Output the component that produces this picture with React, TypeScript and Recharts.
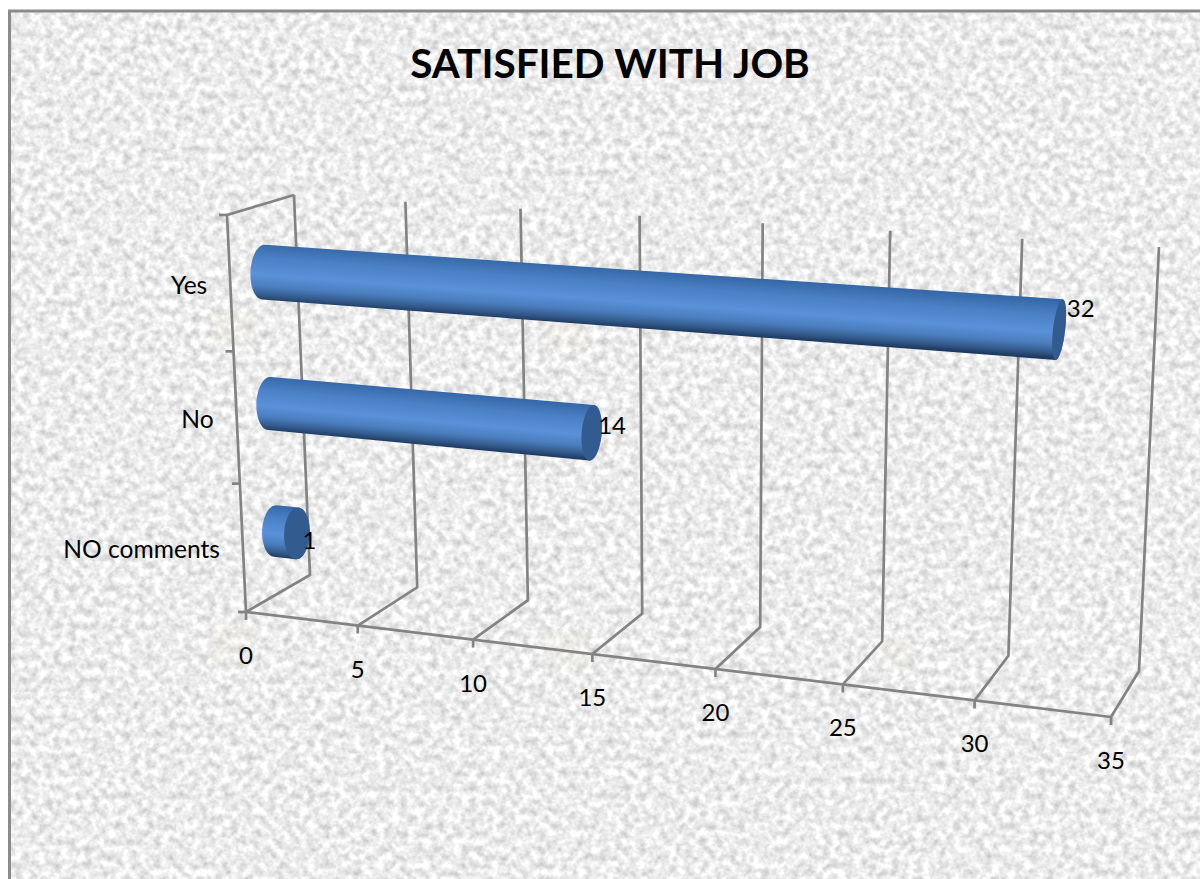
import { BarChart, Bar, XAxis, YAxis, CartesianGrid, LabelList } from 'recharts'

const categories = ['Yes', 'No', 'NO comments']
const counts = [32, 14, 1]
const valueTicks = [0, 5, 10, 15, 20, 25, 30, 35]

const tableRows = categories.map((name, i) => ({ name, count: counts[i] }))

const W = 1200
const H = 879
const PLOT = { left: 100, top: 100, width: 1000, height: 600 }
const FONT = 'Lato, "Open Sans", sans-serif'
const LINE = '#838383'
const LINE_W = 2.7

type Pt = [number, number]
// corners of a wall: bottom-left, bottom-right, top-right, top-left
const FRONT: Pt[] = [[246, 612], [1111, 717], [1135, 274], [227, 215]]
const BACK: Pt[] = [[310, 575], [1139, 671], [1159, 247], [294, 195]]
const BAR_DEPTH = 0.5

// faint warm patches in the paper texture
const PATCHES = [
  [214, 312, 42, 34],
  [542, 318, 48, 30],
  [214, 626, 42, 40],
  [542, 632, 48, 34],
  [878, 638, 34, 28],
]

// unit square to quad, so the value axis foreshortens like the 3D box
function homography(q: Pt[]) {
  const [[x0, y0], [x1, y1], [x2, y2], [x3, y3]] = q
  const dx1 = x1 - x2, dx2 = x3 - x2, sx = x0 - x1 + x2 - x3
  const dy1 = y1 - y2, dy2 = y3 - y2, sy = y0 - y1 + y2 - y3
  const den = dx1 * dy2 - dx2 * dy1
  const g = (sx * dy2 - dx2 * sy) / den
  const h = (dx1 * sy - sx * dy1) / den
  const a = x1 - x0 + g * x1, b = x3 - x0 + h * x3
  const d = y1 - y0 + g * y1, e = y3 - y0 + h * y3
  return (u: number, v: number): Pt => {
    const w = g * u + h * v + 1
    return [(a * u + b * v + x0) / w, (d * u + e * v + y0) / w]
  }
}

const frontWall = homography(FRONT)
const backWall = homography(BACK)

function project(u: number, v: number, depth: number): Pt {
  const f = frontWall(u, v)
  const b = backWall(u, v)
  return [f[0] + (b[0] - f[0]) * depth, f[1] + (b[1] - f[1]) * depth]
}

const toU = (x: number) => (x - PLOT.left) / PLOT.width
const toV = (y: number) => 1 - (y - PLOT.top) / PLOT.height

function polyline(points: Pt[]) {
  return points.map((p, i) => `${i ? 'L' : 'M'}${p[0].toFixed(1)} ${p[1].toFixed(1)}`).join(' ')
}

// cap of the cylinder as an ellipse from two conjugate half axes
function arc(c: Pt, ax: Pt, ay: Pt, from: number, to: number) {
  const out: Pt[] = []
  for (let i = 0; i <= 36; i++) {
    const t = ((from + ((to - from) * i) / 36) * Math.PI) / 180
    out.push([c[0] + ax[0] * Math.cos(t) + ay[0] * Math.sin(t), c[1] + ax[1] * Math.cos(t) + ay[1] * Math.sin(t)])
  }
  return out
}

function Cylinder({ x, y, width, height, index }: any) {
  const u1 = toU(x + width)
  const vTop = toV(y)
  const vBot = toV(y + height)
  const vMid = (vTop + vBot) / 2
  const c0 = project(0, vMid, BAR_DEPTH)
  const c1 = project(u1, vMid, BAR_DEPTH)
  const slope = (c1[1] - c0[1]) / (c1[0] - c0[0])

  const halfHeight = (u: number) => (project(u, vBot, BAR_DEPTH)[1] - project(u, vTop, BAR_DEPTH)[1]) / 2
  const r0 = halfHeight(0)
  const r1 = halfHeight(u1)
  // ends get narrower and lean further right towards the far side
  const rx0 = 13
  const rx1 = 13 - 7.6 * u1
  const ax0: Pt = [rx0, rx0 * slope]
  const ax1: Pt = [rx1, rx1 * slope]
  const ay0: Pt = [1.5, -r0]
  const ay1: Pt = [1.5 + 2.2 * u1, -r1]

  const body = polyline([...arc(c0, ax0, ay0, 90, 270), ...arc(c1, ax1, ay1, -90, 90)]) + ' Z'
  const cap = polyline(arc(c1, ax1, ay1, 0, 360)) + ' Z'

  const r = (r0 + r1) / 2
  const mx = (c0[0] + c1[0]) / 2
  const my = (c0[1] + c1[1]) / 2
  const id = `tube${index}`
  return (
    <g>
      <defs>
        <linearGradient id={id} gradientUnits="userSpaceOnUse" x1={mx + slope * r} y1={my - r} x2={mx - slope * r} y2={my + r}>
          <stop offset="0%" stopColor="#3568a8" />
          <stop offset="25%" stopColor="#4a80c4" />
          <stop offset="55%" stopColor="#5a91d9" />
          <stop offset="75%" stopColor="#4a7ebd" />
          <stop offset="90%" stopColor="#345a8c" />
          <stop offset="100%" stopColor="#1f3a60" />
        </linearGradient>
      </defs>
      <path d={body} fill={`url(#${id})`} />
      <path d={cap} fill="#325b8f" />
    </g>
  )
}

function BarValue({ x, y, width, height, value }: any) {
  const u = toU(x + width)
  const v = toV(y + height / 2)
  const [px, py] = project(u, v, BAR_DEPTH)
  return (
    <text x={px + 5.5 + 2.5 * u} y={py + 13 - 42 * v} fontFamily={FONT} fontSize={24} fill="#000" dominantBaseline="central">
      {value}
    </text>
  )
}

// floor segment plus the upright on the back wall
function WallLine({ x1 }: any) {
  const u = toU(x1)
  const d = polyline([project(u, 0, 0), project(u, 0, 1), project(u, 1, 1)])
  return <path d={d} fill="none" stroke={LINE} strokeWidth={LINE_W} />
}

function ValueTick({ x, payload }: any) {
  const [px, py] = project(toU(x), 0, 0)
  return (
    <g>
      <line x1={px} y1={py} x2={px} y2={py + 8} stroke={LINE} strokeWidth={LINE_W} />
      <text x={px} y={py + 42.5} textAnchor="middle" dominantBaseline="central" fontFamily={FONT} fontSize={24} fill="#000">
        {payload.value}
      </text>
    </g>
  )
}

function CategoryTick({ y, payload }: any) {
  const [px, py] = project(0, toV(y), 0)
  return (
    <text x={px - 23} y={py + 0.5} textAnchor="end" dominantBaseline="central" fontFamily={FONT} fontSize={24.6} fill="#000">
      {payload.value}
    </text>
  )
}

export default function App() {
  const bandEdges = categories.map((_, i) => i / categories.length).concat(1)
  return (
    <div style={{ position: 'absolute', left: 0, top: 0, width: W, height: H, background: '#fff' }}>
      <svg width={W} height={H} style={{ position: 'absolute', left: 0, top: 0 }}>
        <defs>
          <filter id="stone" x="0" y="0" width="100%" height="100%" colorInterpolationFilters="sRGB">
            <feTurbulence type="fractalNoise" baseFrequency="0.13" numOctaves="3" seed="7" />
            <feColorMatrix values="0.38 0 0 0 0.735  0.38 0 0 0 0.735  0.38 0 0 0 0.735  0 0 0 0 1" />
          </filter>
        </defs>
        <rect x={9} y={11} width={W} height={H} filter="url(#stone)" />
        {PATCHES.map(([x, y, w, h]) => (
          <rect key={x + '-' + y} x={x} y={y} width={w} height={h} fill="#f3e4d4" opacity={0.16} />
        ))}
        <path d="M9.5 879 L9.5 11 L1200 11" fill="none" stroke="#8b8b8b" strokeWidth={3} />
      </svg>
      <div style={{ position: 'absolute', left: 0, top: 0 }}>
        <BarChart
          width={W}
          height={H}
          data={tableRows}
          layout="vertical"
          barCategoryGap="29.5%"
          margin={{ top: PLOT.top, right: W - PLOT.left - PLOT.width, bottom: 0, left: 0 }}
        >
          <text x={610} y={62} textAnchor="middle" dominantBaseline="central" fontFamily={FONT} fontWeight={700} fontSize={40.5} fill="#000">
            SATISFIED WITH JOB
          </text>

          <CartesianGrid horizontal={false} vertical={WallLine as any} syncWithTicks />

          {/* left wall, category ticks and the front edge of the floor */}
          <path
            d={polyline([project(0, 1, 1), project(0, 1, 0), project(0, 0, 0), project(1, 0, 0)])}
            fill="none"
            stroke={LINE}
            strokeWidth={LINE_W}
          />
          {bandEdges.map(v => {
            const [px, py] = project(0, v, 0)
            return <line key={v} x1={px - 8} y1={py} x2={px} y2={py} stroke={LINE} strokeWidth={LINE_W} />
          })}

          <XAxis
            type="number"
            domain={[0, 35]}
            ticks={valueTicks}
            interval={0}
            height={H - PLOT.top - PLOT.height}
            axisLine={false}
            tickLine={false}
            tick={ValueTick as any}
          />
          <YAxis
            type="category"
            dataKey="name"
            width={PLOT.left}
            interval={0}
            axisLine={false}
            tickLine={false}
            tick={CategoryTick as any}
          />
          <Bar dataKey="count" isAnimationActive={false} shape={Cylinder as any}>
            <LabelList dataKey="count" content={BarValue as any} />
          </Bar>
        </BarChart>
      </div>
    </div>
  )
}
